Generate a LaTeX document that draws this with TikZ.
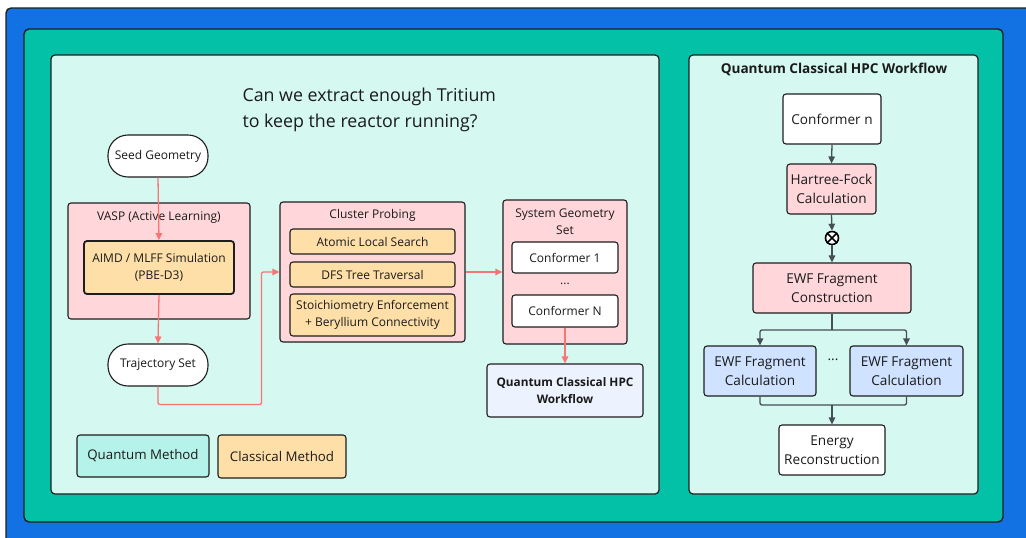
\documentclass[tikz,border=0pt]{standalone}
\usepackage{fontspec}
\setmainfont{Open Sans}
\usetikzlibrary{arrows.meta,calc}
\definecolor{bluebg}{HTML}{1372E3}
\definecolor{tealbg}{HTML}{03C1A7}
\definecolor{panelf}{HTML}{D5F8F1}
\definecolor{pinkf}{HTML}{FFD7DA}
\definecolor{orangef}{HTML}{FFDFA8}
\definecolor{quantf}{HTML}{B5F3EA}
\definecolor{bluef}{HTML}{CFE2FF}
\definecolor{hpcf}{HTML}{EDF3FE}
\definecolor{arrred}{HTML}{F87575}
\definecolor{arrgray}{HTML}{464E57}
\definecolor{txt}{HTML}{1A1A1A}
\definecolor{edge}{HTML}{1E1E1E}
\tikzset{
  box/.style={draw=edge, line width=1.1pt, rounded corners=3pt, align=center, inner sep=1pt, text=txt},
  lsmall/.style={font=\fontsize{12}{17}\selectfont},
  rbig/.style={font=\fontsize{13.6}{19.5}\selectfont},
  stadium/.style={box, fill=white, minimum width=100, minimum height=42, rounded corners=20pt, lsmall},
  rarr/.style={draw=arrred, line width=1.3pt, -{Triangle[length=7pt,width=6.5pt]}},
  rline/.style={draw=arrred, line width=1.3pt},
  garr/.style={draw=arrgray, line width=1.3pt, -{Triangle[length=7pt,width=6.5pt]}},
  gline/.style={draw=arrgray, line width=1.3pt},
  panel/.style={draw=edge, line width=1.2pt, fill=panelf, rounded corners=4pt},
}
\begin{document}
\begin{tikzpicture}[x=1pt,y=-1pt]
\useasboundingbox (0,0) rectangle (1026,538);
\clip (0,0) rectangle (1026,538);
\draw[fill=bluebg, draw=edge, line width=1.4pt, rounded corners=5pt] (6,8) rectangle (1050,560);
\draw[fill=tealbg, draw=edge, line width=1.4pt, rounded corners=5pt] (24,29) rectangle (1003,522);
\draw[panel] (51,55) rectangle (659,494);
\draw[panel] (689,55) rectangle (978,494);

% title
\node[anchor=west, align=left, text=txt, font=\fontsize{17.8}{26}\selectfont] (title) at (239,109.5) {Can we extract enough Tritium\\to keep the reactor running?};

% left flow
\node[stadium] (seed) at (158,156) {Seed Geometry};
\node[box, fill=pinkf, minimum width=182, minimum height=116] (vasp) at (159,261) {};
\node[lsmall, text=txt] (vasplbl) at (159,218) {VASP (Active Learning)};
\node[box, fill=orangef, line width=1.8pt, minimum width=150, minimum height=53, lsmall] (aimd) at (159,267.5) {AIMD / MLFF Simulation\\(PBE-D3)};
\node[stadium] (traj) at (158,365) {Trajectory Set};

\node[box, fill=pinkf, minimum width=185, minimum height=140] (cluster) at (372.5,272) {};
\node[lsmall, text=txt] (clusterlbl) at (372.5,215.5) {Cluster Probing};
\node[box, fill=orangef, minimum width=165, minimum height=25, lsmall] (als) at (372.5,241.5) {Atomic Local Search};
\node[box, fill=orangef, minimum width=165, minimum height=25, lsmall] (dfs) at (372.5,274.5) {DFS Tree Traversal};
\node[box, fill=orangef, minimum width=165, minimum height=42, lsmall] (stoi) at (372.5,315) {Stoichiometry Enforcement\\+ Beryllium Connectivity};

\node[box, fill=pinkf, minimum width=124, minimum height=144] (sysgeo) at (565,272) {};
\node[lsmall, text=txt, align=center] (syslbl) at (565,222) {System Geometry\\Set};
\node[box, fill=white, minimum width=106, minimum height=31, lsmall] (conf1) at (565,257.5) {Conformer 1};
\node[lsmall, text=txt] (cdots) at (565,284) {...};
\node[box, fill=white, minimum width=106, minimum height=32, lsmall] (confN) at (565,311) {Conformer N};

\node[box, fill=hpcf, minimum width=156, minimum height=53, font=\bfseries\fontsize{11.8}{17}\selectfont] (hpc) at (565,390.5) {Quantum Classical HPC\\Workflow};

\node[box, fill=quantf, minimum width=132, minimum height=42, font=\fontsize{13.3}{17}\selectfont] (qm) at (143,456) {Quantum Method};
\node[box, fill=orangef, minimum width=128, minimum height=43, font=\fontsize{13.3}{17}\selectfont] (cm) at (282,456.5) {Classical Method};

\draw[rarr] (seed.south) -- (aimd.north);
\draw[rarr] (aimd.south) -- (traj.north);
\draw[rarr, rounded corners=2pt] (traj.south) -- ++(0,18) -| ([xshift=-18pt]cluster.west) -- (cluster.west);
\draw[rarr] (cluster.east) -- (sysgeo.west);
\draw[rarr] (confN.south) -- (hpc.north);

% right panel
\node[font=\bfseries\fontsize{13.6}{15}\selectfont, text=txt] (rtitle) at (834,69.5) {Quantum Classical HPC Workflow};
\node[box, fill=white, minimum width=98, minimum height=50, rbig] (confn) at (832,119) {Conformer n};
\node[box, fill=pinkf, minimum width=89, minimum height=50, rbig] (hf) at (831.5,189) {Hartree-Fock\\Calculation};
\node[circle, draw=black, line width=1.6pt, fill=white, minimum size=13, inner sep=0pt] (ot) at (832,238) {};
\draw[line width=1.6pt] (ot.45) -- (ot.225) (ot.135) -- (ot.315);
\node[box, fill=pinkf, minimum width=158, minimum height=50, rbig] (ewfc) at (832,288) {EWF Fragment\\Construction};
\node[box, fill=bluef, minimum width=112, minimum height=50, rbig] (ewf1) at (760,371) {EWF Fragment\\Calculation};
\node[box, fill=bluef, minimum width=113, minimum height=50, rbig] (ewf2) at (906.5,371) {EWF Fragment\\Calculation};
\node[rbig, text=txt] (rdots) at (833,360) {...};
\node[box, fill=white, minimum width=106, minimum height=50, rbig] (energy) at (832,450) {Energy\\Reconstruction};

\draw[garr] (confn.south) -- (hf.north);
\draw[garr] (hf.south) -- (ot.north);
\draw[garr] (ot.south) -- (ewfc.north);
\coordinate (br) at (832,330);
\draw[gline] (ewfc.south) -- (br);
\draw[garr, rounded corners=2pt] (br) -| (ewf1.north);
\draw[garr, rounded corners=2pt] (br) -| (ewf2.north);
\coordinate (mg) at (832,405);
\draw[gline, rounded corners=2pt] (ewf1.south) |- (mg);
\draw[gline, rounded corners=2pt] (ewf2.south) |- (mg);
\draw[garr] (mg) -- (energy.north);
\end{tikzpicture}
\end{document}
